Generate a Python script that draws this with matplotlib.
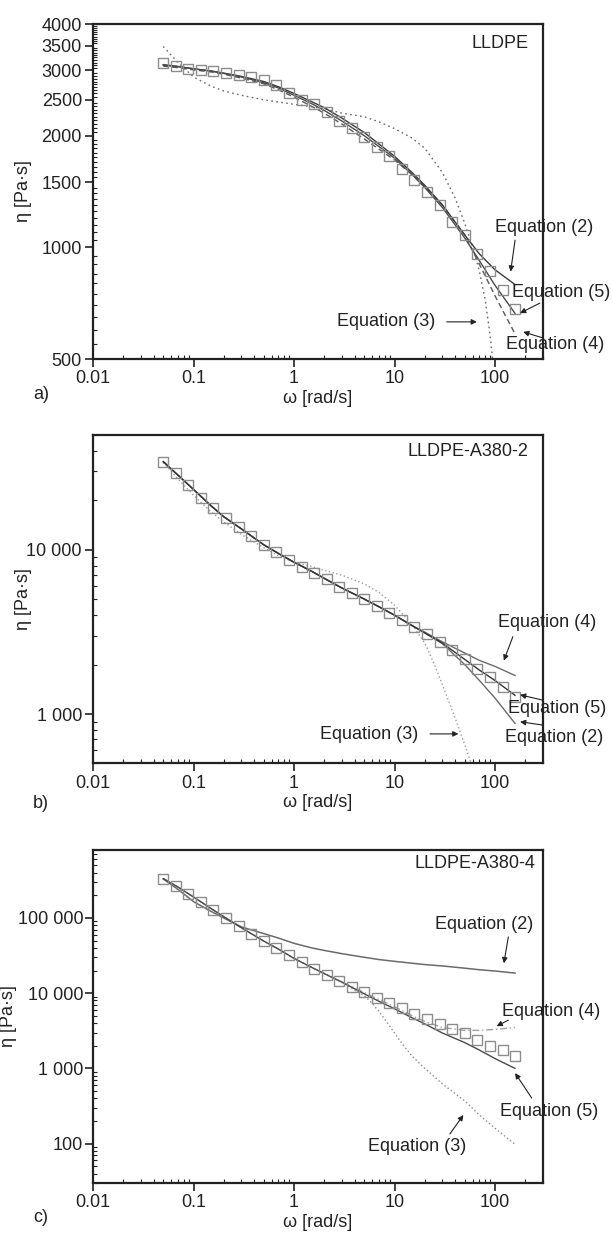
import matplotlib
matplotlib.use("Agg")
import matplotlib.pyplot as plt
from matplotlib.ticker import FixedLocator, LogLocator, NullFormatter
import numpy as np

plt.rcParams['font.family'] = ['Liberation Sans', 'DejaVu Sans']
plt.rcParams['font.size'] = 13

# measured frequencies (rad/s)
omega = [0.05, 0.0667, 0.0889, 0.119, 0.158, 0.211, 0.281, 0.375, 0.5, 0.667,
         0.889, 1.19, 1.58, 2.11, 2.81, 3.75, 5.0, 6.67, 8.89, 11.9,
         15.8, 21.1, 28.1, 37.5, 50, 66.7, 88.9, 119, 158]

# measured viscosity (Pa.s)
eta_lldpe = [3140, 3090, 3030, 3010, 2985, 2955, 2920, 2877, 2831, 2741,
             2601, 2494, 2431, 2317, 2198, 2099, 1980, 1866, 1763, 1629,
             1521, 1414, 1300, 1170, 1080, 957, 865, 768, 681]
eta_a2 = [34400, 29200, 24650, 20720, 17990, 15630, 13700, 12070, 10730, 9630,
          8690, 7910, 7266, 6610, 5970, 5430, 5010, 4560, 4150, 3760,
          3390, 3060, 2750, 2440, 2160, 1890, 1676, 1455, 1276]
eta_a4 = [334400, 267000, 211000, 163400, 126500, 100000, 78200, 61800, 49300, 39800,
          31800, 25900, 21100, 17550, 14450, 12020, 10300, 8660, 7360, 6310,
          5300, 4500, 3860, 3350, 2920, 2415, 2010, 1775, 1476]

# model curves
fit_w = [0.05, 0.07, 0.1, 0.15, 0.2, 0.3, 0.5, 0.7, 1, 1.5, 2, 3, 5, 7, 10,
         15, 20, 30, 50, 70, 100, 158]

a_eq2 = [3100, 3070, 3030, 2990, 2950, 2890, 2800, 2710, 2600, 2470, 2380,
         2230, 2040, 1900, 1760, 1590, 1470, 1300, 1080, 960, 870, 794]
a_eq5 = [3110, 3075, 3030, 2985, 2945, 2880, 2780, 2690, 2570, 2440, 2340,
         2190, 2000, 1870, 1740, 1570, 1450, 1280, 1060, 920, 790, 664]
a_eq4 = [3080, 3050, 3010, 2970, 2930, 2860, 2760, 2660, 2540, 2400, 2300,
         2150, 1960, 1840, 1720, 1570, 1460, 1300, 1080, 900, 740, 585]
a_eq3_w = [0.05, 0.07, 0.1, 0.15, 0.2, 0.3, 0.5, 0.7, 1, 1.5, 2, 3, 5, 7, 10,
           15, 20, 30, 40, 50, 60, 70, 80, 90, 95, 100]
a_eq3 = [3480, 3150, 2880, 2720, 2640, 2570, 2500, 2465, 2430, 2395, 2365,
         2300, 2250, 2180, 2090, 1970, 1850, 1590, 1360, 1160, 1000, 860,
         720, 570, 490, 440]

b_eq2 = [34400, 28500, 23300, 18500, 15900, 13400, 10730, 9500, 8400, 7400, 6700,
         5850, 5010, 4500, 4000, 3450, 3120, 2680, 2000, 1600, 1250, 877]
b_eq4 = [34400, 28500, 23300, 18500, 15900, 13400, 10730, 9500, 8400, 7400, 6700,
         5850, 5010, 4500, 4000, 3450, 3150, 2750, 2350, 2120, 1950, 1717]
b_eq5 = [34400, 28500, 23300, 18500, 15900, 13400, 10730, 9500, 8400, 7400, 6700,
         5850, 5010, 4500, 4000, 3450, 3120, 2700, 2150, 1850, 1600, 1300]
b_eq3_w = [0.05, 0.07, 0.1, 0.15, 0.2, 0.3, 0.5, 0.7, 1, 1.5, 2, 3, 5, 7, 10,
           15, 20, 25, 30, 40, 50, 58, 65]
b_eq3 = [34000, 27000, 21500, 17000, 14800, 12400, 10300, 9200, 8400, 7900, 7500,
         7000, 6200, 5500, 4600, 3500, 2700, 2000, 1500, 950, 650, 500, 400]

c_eq2 = [330000, 240000, 165000, 122000, 100000, 76000, 62000, 54000, 46000, 40000,
         37000, 33500, 30000, 28000, 26500, 25000, 24000, 23000, 21500, 20500,
         19700, 18500]
c_eq5 = [334000, 258000, 190000, 133000, 104000, 74000, 49300, 38500, 29000, 22000,
         18200, 14000, 9800, 7800, 6200, 4700, 3900, 2950, 2200, 1750, 1350, 1000]
c_eq4 = [334000, 258000, 190000, 133000, 104000, 74000, 49300, 38500, 29000, 22000,
         18200, 14000, 10200, 8200, 6600, 5000, 4200, 3500, 3200, 3200, 3300, 3500]
c_eq3_w = [0.05, 0.07, 0.1, 0.15, 0.2, 0.3, 0.5, 0.7, 1, 1.5, 2, 3, 4, 5, 6, 7,
           8, 9, 10, 12, 15, 20, 30, 50, 70, 100, 158]
c_eq3 = [334000, 258000, 190000, 133000, 104000, 74000, 49300, 38500, 29000, 22000,
         18200, 14000, 11000, 9300, 7300, 5700, 4500, 3600, 2950, 2100, 1450, 1000,
         620, 370, 240, 160, 98]

x_ticks = [0.01, 0.1, 1, 10, 100]
x_labels = ['0.01', '0.1', '1', '10', '100']

fig = plt.figure(figsize=(6.13, 12.33), dpi=100)
boxes = [[0.1517, 0.7088, 0.7341, 0.2717],
         [0.1517, 0.3808, 0.7341, 0.2664],
         [0.1517, 0.0406, 0.7341, 0.2700]]
axes = [fig.add_axes(b) for b in boxes]

sq = dict(marker='s', ms=6.8, mfc='none', mec='#8c8c8c', mew=1.0, ls='none', zorder=3)
arr = dict(arrowstyle='-|>', color='#222222', lw=0.8, mutation_scale=8, shrinkA=0, shrinkB=0)


def style(ax, ylim, yticks, ylabels, yminor=None, ylab_x=-0.135):
    ax.set_xscale('log')
    ax.set_yscale('log')
    ax.set_xlim(0.01, 300)
    ax.set_ylim(*ylim)
    ax.xaxis.set_major_locator(FixedLocator(x_ticks))
    ax.set_xticklabels(x_labels)
    ax.xaxis.set_minor_locator(LogLocator(base=10, subs=np.arange(2, 10)))
    ax.xaxis.set_minor_formatter(NullFormatter())
    ax.yaxis.set_major_locator(FixedLocator(yticks))
    ax.set_yticklabels(ylabels)
    if yminor is None:
        ax.yaxis.set_minor_locator(LogLocator(base=10, subs=np.arange(2, 10), numticks=20))
    else:
        ax.yaxis.set_minor_locator(FixedLocator(yminor))
    ax.yaxis.set_minor_formatter(NullFormatter())
    ax.tick_params(which='major', direction='out', length=6, width=1.2,
                   labelsize=13, colors='#222222', pad=2)
    ax.tick_params(which='minor', direction='in', length=3, width=0.8, colors='#222222')
    for s in ax.spines.values():
        s.set_linewidth(1.6)
        s.set_color('#222222')
    ax.set_xlabel('ω [rad/s]', fontsize=13, color='#222222', labelpad=2)
    ax.set_ylabel('η [Pa·s]', fontsize=13, color='#222222')
    ax.yaxis.set_label_coords(ylab_x, 0.5)


def note(ax, text, tx, ty, tail=None, tip=None, ha='left'):
    ax.text(tx, ty, text, transform=ax.transAxes, ha=ha, va='center',
            fontsize=13, color='#222222', clip_on=False, zorder=5)
    if tail is not None:
        ax.annotate('', xy=tip, xytext=tail, xycoords='axes fraction',
                    textcoords='axes fraction', arrowprops=arr, annotation_clip=False)


# a) LLDPE
ax = axes[0]
ax.plot(a_eq3_w, a_eq3, color='#6a6a6a', lw=1.0, ls=(0, (1.2, 2.4)))
ax.plot(fit_w, a_eq4, color='#5a5a5a', lw=1.0, ls=(0, (4, 2.5)))
ax.plot(fit_w, a_eq2, color='#3a3a3a', lw=1.0)
ax.plot(fit_w, a_eq5, color='#4a4a4a', lw=1.0)
ax.plot(omega, eta_lldpe, **sq)
style(ax, (500, 4000), [500, 1000, 1500, 2000, 2500, 3000, 3500, 4000],
      ['500', '1000', '1500', '2000', '2500', '3000', '3500', '4000'],
      yminor=np.arange(550, 4000, 50))
note(ax, 'LLDPE', 0.967, 0.943, ha='right')
note(ax, 'Equation (2)', 0.893, 0.394, (0.938, 0.355), (0.928, 0.261))
note(ax, 'Equation (5)', 0.931, 0.200, (0.993, 0.167), (0.949, 0.137))
note(ax, 'Equation (3)', 0.5416, 0.111, (0.786, 0.111), (0.853, 0.111))
note(ax, 'Equation (4)', 0.918, 0.042, (1.0, 0.063), (0.956, 0.081))

# b) LLDPE-A380-2
ax = axes[1]
ax.plot(b_eq3_w, b_eq3, color='#9a9a9a', lw=1.0, ls=(0, (1, 1.8)))
ax.plot(fit_w, b_eq4, color='#6a6a6a', lw=1.0)
ax.plot(fit_w, b_eq2, color='#6a6a6a', lw=1.0)
ax.plot(fit_w, b_eq5, color='#333333', lw=1.0)
ax.plot(omega, eta_a2, **sq)
style(ax, (500, 50000), [1000, 10000], ['1 000', '10 000'])
note(ax, 'LLDPE-A380-2', 0.967, 0.949, ha='right')
note(ax, 'Equation (4)', 0.900, 0.428, (0.933, 0.386), (0.913, 0.313))
note(ax, 'Equation (5)', 0.922, 0.166, (0.999, 0.193), (0.949, 0.209))
note(ax, 'Equation (2)', 0.916, 0.078, (0.999, 0.117), (0.949, 0.127))
note(ax, 'Equation (3)', 0.504, 0.087, (0.749, 0.090), (0.812, 0.090))

# c) LLDPE-A380-4
ax = axes[2]
ax.plot(c_eq3_w, c_eq3, color='#8a8a8a', lw=1.0, ls=(0, (1, 1.8)))
ax.plot(fit_w, c_eq4, color='#a0a0a0', lw=1.0, ls=(0, (5, 2, 1, 2)))
ax.plot(fit_w, c_eq2, color='#6a6a6a', lw=1.1)
ax.plot(fit_w, c_eq5, color='#4a4a4a', lw=1.0)
ax.plot(omega, eta_a4, **sq)
style(ax, (30, 800000), [100, 1000, 10000, 100000],
      ['100', '1 000', '10 000', '100 000'], ylab_x=-0.168)
ax.tick_params(axis='y', which='major', pad=1)
note(ax, 'LLDPE-A380-4', 0.982, 0.961, ha='right')
note(ax, 'Equation (2)', 0.760, 0.775, (0.923, 0.739), (0.913, 0.660))
note(ax, 'Equation (4)', 0.908, 0.514, (0.923, 0.489), (0.897, 0.471))
note(ax, 'Equation (5)', 0.904, 0.214, (0.975, 0.255), (0.938, 0.330))
note(ax, 'Equation (3)', 0.611, 0.109, (0.793, 0.147), (0.823, 0.204))

for lab, y in zip(['a)', 'b)', 'c)'], [0.6797, 0.3487, 0.0122]):
    fig.text(0.054, y, lab, fontsize=13, color='#222222', va='center', ha='left')

fig.savefig('out.png', dpi=100)
